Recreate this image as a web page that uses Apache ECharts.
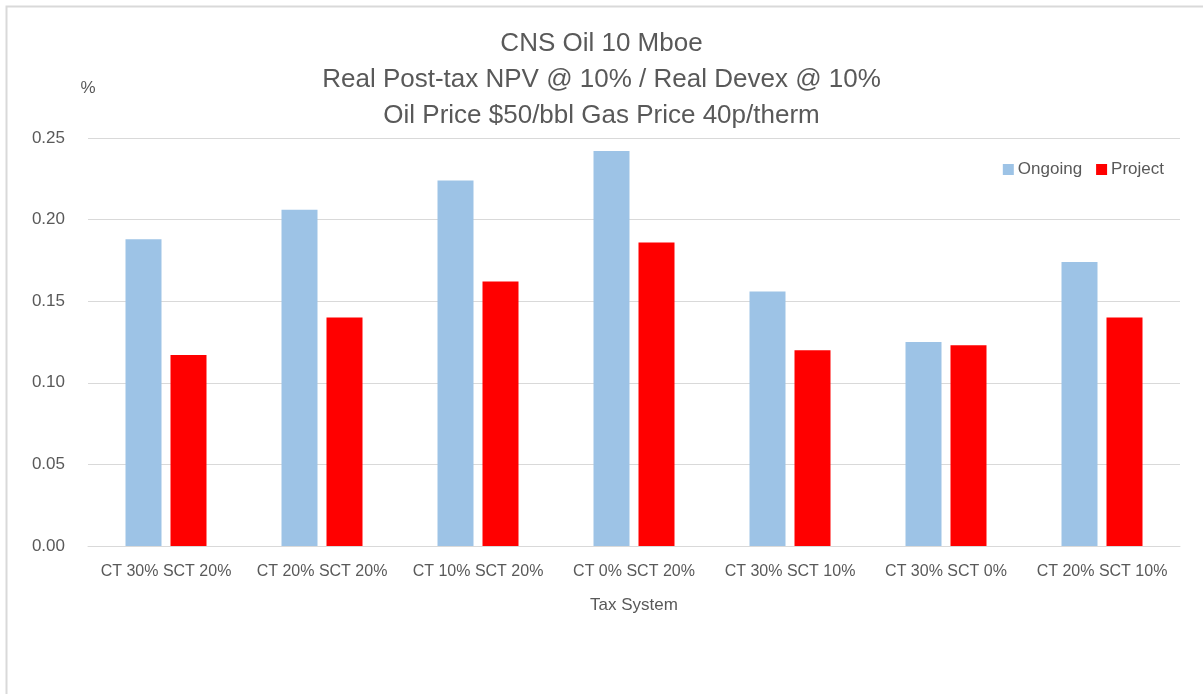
<!DOCTYPE html>
<html><head><meta charset="utf-8">
<script src="https://cdn.jsdelivr.net/npm/echarts@6/dist/echarts.min.js"></script>
<style>html,body{margin:0;padding:0;background:#fff}#c{width:1203px;height:694px}</style>
</head><body><div id="c"></div>
<script>
const categories = ['CT 30% SCT 20%','CT 20% SCT 20%','CT 10% SCT 20%','CT 0% SCT 20%','CT 30% SCT 10%','CT 30% SCT 0%','CT 20% SCT 10%'];
const ongoing = [0.188, 0.206, 0.224, 0.242, 0.156, 0.125, 0.174];
const project = [0.117, 0.140, 0.162, 0.186, 0.120, 0.123, 0.140];
const titleLines = ['CNS Oil 10 Mboe','Real Post-tax NPV @ 10% / Real Devex @ 10%','Oil Price $50/bbl Gas Price 40p/therm'];
const FONT = 'Liberation Sans, Arial, sans-serif';
const chart = echarts.init(document.getElementById('c'));
chart.setOption({
  animation:false,
  graphic:[{type:'rect',left:4,top:4,shape:{width:1300,height:800},style:{fill:'none',stroke:'#d9d9d9',lineWidth:2},silent:true}],
  title:{text:titleLines.join('\n'),left:'center',top:21,textStyle:{fontFamily:FONT,fontSize:26,fontWeight:'normal',color:'#595959',lineHeight:36}},
  legend:{top:156,right:34,itemWidth:11,itemHeight:11,itemGap:14,itemStyle:{borderWidth:0},icon:'rect',textStyle:{fontFamily:FONT,fontSize:17,color:'#595959',padding:[0,0,0,-1]},data:['Ongoing','Project']},
  grid:{left:88,right:23,top:138,bottom:148,containLabel:false},
  xAxis:{type:'category',data:categories,name:'Tax System',nameLocation:'middle',nameGap:51,
    nameTextStyle:{fontFamily:FONT,fontSize:17,color:'#595959'},
    axisLine:{lineStyle:{color:'#d9d9d9',width:1}},axisTick:{show:false},
    axisLabel:{fontFamily:FONT,fontSize:16,color:'#595959',margin:18,interval:0}},
  yAxis:{type:'value',min:0,max:0.25,interval:0.05,name:'%',nameLocation:'end',nameGap:41,
    nameTextStyle:{fontFamily:FONT,fontSize:17,color:'#595959',align:'center'},
    axisLine:{show:false},axisTick:{show:false},
    splitLine:{lineStyle:{color:'#d9d9d9',width:1}},
    axisLabel:{fontFamily:FONT,fontSize:17,color:'#595959',margin:23,formatter:v=>v.toFixed(2)}},
  series:[
    {name:'Ongoing',type:'bar',data:ongoing,barWidth:36,barGap:'25%',itemStyle:{color:'#9dc3e6'}},
    {name:'Project',type:'bar',data:project,barWidth:36,itemStyle:{color:'#ff0000'}}
  ]
});
</script></body></html>
